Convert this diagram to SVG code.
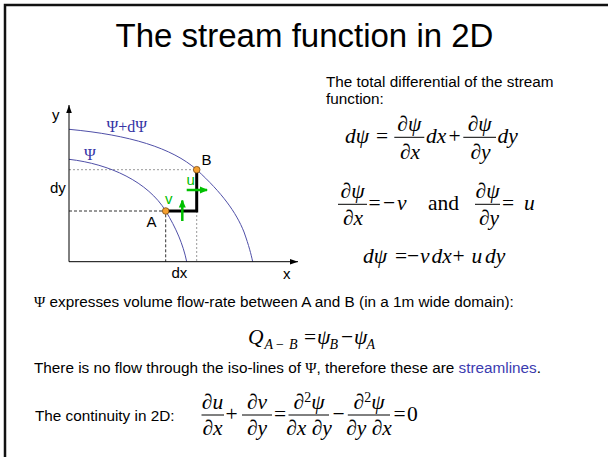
<svg xmlns="http://www.w3.org/2000/svg" width="608" height="457" viewBox="0 0 608 457">
<defs>
<marker id="axArrow" markerUnits="userSpaceOnUse" markerWidth="8" markerHeight="8" viewBox="0 0 8 8" refX="8" refY="4" orient="auto"><path d="M0,1.2 L8,4 L0,6.8 Z" fill="#000"/></marker>
<marker id="gArrow" markerUnits="userSpaceOnUse" markerWidth="8" markerHeight="8" viewBox="0 0 8 8" refX="7" refY="4" orient="auto"><path d="M0,0.5 L8,4 L0,7.5 Z" fill="#00c000"/></marker>
</defs>
<style>
.sans{font-family:"Liberation Sans",Arial,sans-serif;fill:#000}
.body{font-size:15.3px}
.lbl{font-size:15px}
.m{font-family:"Liberation Serif","Times New Roman",serif;font-size:21.5px;fill:#000}
.i{font-style:italic}
.sub{font-size:14px}
.fl{stroke:#000;stroke-width:1}
.curve{fill:none;stroke:#5050a8;stroke-width:1}
.blue{fill:#3535a5;font-family:"Liberation Serif","Times New Roman",serif;font-size:16px}
.green{fill:#00c000}
.dash{stroke:#333;stroke-width:1;stroke-dasharray:3,2;fill:none}
.dot{stroke:#999;stroke-width:1;stroke-dasharray:2,2;fill:none}
.pt{fill:#f5a030;stroke:#7a4a10;stroke-width:0.8}
.psi{font-family:"Liberation Serif","Times New Roman",serif}
</style>
<rect width="608" height="457" fill="#fff"/>
<path d="M5,457 V5 H608" fill="none" stroke="#111" stroke-width="2.5"/>
<text id="title" x="304.5" y="47" text-anchor="middle" class="sans" font-size="33">The stream function in 2D</text>

<g id="diagram">
<g id="guides">
<path class="dot" d="M69,169.7 H196.7"/>
<path class="dash" d="M69,211 H165.7 V261.7"/>
<path class="dot" d="M196.7,211 V261.7"/>
</g>
<g id="curves">
<path id="curve-psi" class="curve" d="M69,159.3 C110,164 148,182 165.7,211 C176,228 183,244 186.7,261.7"/>
<path id="curve-psidpsi" class="curve" d="M69,129.3 C130,135 172,148 196.7,169.7 C222,193 236,212 244,232 C249,246 251,254 252.7,261.7"/>
</g>
<g id="axes">
<line x1="69" y1="261.7" x2="69" y2="105" stroke="#000" stroke-width="1" marker-end="url(#axArrow)"/>
<line x1="69" y1="261.7" x2="298" y2="261.7" stroke="#000" stroke-width="1" marker-end="url(#axArrow)"/>
</g>
<path id="step" d="M165.7,211 H196.7 V169.7" fill="none" stroke="#000" stroke-width="3"/>
<g id="vel">
<line x1="186.7" y1="190" x2="207" y2="190" stroke="#00c000" stroke-width="2.5" marker-end="url(#gArrow)"/>
<line x1="182.3" y1="221" x2="182.3" y2="200.5" stroke="#00c000" stroke-width="2.5" marker-end="url(#gArrow)"/>
</g>
<g id="pointA"><circle class="pt" cx="165.7" cy="211" r="3.3"/><text class="sans lbl" x="146.5" y="226.5">A</text></g>
<g id="pointB"><circle class="pt" cx="196.7" cy="169.7" r="3.3"/><text class="sans lbl" x="201.5" y="164.5">B</text></g>
<g id="labels">
<text class="sans lbl" x="52" y="119.5">y</text>
<text class="sans lbl" x="283" y="279">x</text>
<text class="sans lbl" x="171.5" y="278">dx</text>
<text class="sans lbl" x="50" y="192.5">dy</text>
<text class="sans lbl green" x="186.5" y="185">u</text>
<text class="sans lbl green" x="165" y="203.5">v</text>
<text class="blue" x="106.5" y="131.5">Ψ+dΨ</text>
<text class="blue" x="84" y="160">Ψ</text>
</g>
</g>

<g id="intro" class="sans body">
<text x="326" y="87">The total differential of the stream</text>
<text x="326" y="104">function:</text>
</g>

<g id="eq1" class="m">
<text x="345" y="142.5" class="i">dψ</text>
<text x="376" y="142.5">=</text>
<line class="fl" x1="394.3" y1="137.3" x2="424.3" y2="137.3"/>
<text x="409.3" y="131" text-anchor="middle">∂<tspan class="i">ψ</tspan></text>
<text x="410" y="158.5" text-anchor="middle">∂<tspan class="i">x</tspan></text>
<text x="426" y="142.5" class="i">dx</text>
<text x="448.5" y="142.5">+</text>
<line class="fl" x1="463.3" y1="137.3" x2="496" y2="137.3"/>
<text x="479.7" y="131" text-anchor="middle">∂<tspan class="i">ψ</tspan></text>
<text x="480.5" y="158.5" text-anchor="middle">∂<tspan class="i">y</tspan></text>
<text x="497.5" y="142.5" class="i">dy</text>
</g>

<g id="eq2" class="m">
<line class="fl" x1="338" y1="204.3" x2="367" y2="204.3"/>
<text x="352.5" y="198" text-anchor="middle">∂<tspan class="i">ψ</tspan></text>
<text x="353" y="225" text-anchor="middle">∂<tspan class="i">x</tspan></text>
<text x="368.5" y="210">=</text>
<text x="383" y="210">−</text>
<text x="397" y="210" class="i">v</text>
<text x="428" y="210">and</text>
<line class="fl" x1="475" y1="204.3" x2="500" y2="204.3"/>
<text x="487.5" y="198" text-anchor="middle">∂<tspan class="i">ψ</tspan></text>
<text x="489" y="225" text-anchor="middle">∂<tspan class="i">y</tspan></text>
<text x="502" y="210">=</text>
<text x="524" y="210" class="i">u</text>
</g>

<g id="eq3" class="m">
<text x="363" y="263" class="i">dψ</text>
<text x="395" y="263">=</text>
<text x="407" y="263">−</text>
<text x="420" y="263" class="i">v</text>
<text x="431.5" y="263" class="i">dx</text>
<text x="452.5" y="263">+</text>
<text x="471.5" y="263" class="i">u</text>
<text x="485" y="263" class="i">dy</text>
</g>

<g id="para1" class="sans body">
<text x="34" y="307"><tspan class="psi">Ψ</tspan> expresses volume flow-rate between A and B (in a 1m wide domain):</text>
</g>

<g id="eqQ" class="m">
<text x="248" y="344" class="i">Q</text>
<text x="264.5" y="348.5" class="sub i">A</text>
<text x="276" y="348.5" class="sub">−</text>
<text x="289" y="348.5" class="sub i">B</text>
<text x="304" y="344">=</text>
<text x="317" y="344" class="i">ψ</text>
<text x="329.5" y="348.5" class="sub i">B</text>
<text x="341" y="344">−</text>
<text x="354" y="344" class="i">ψ</text>
<text x="366.5" y="348.5" class="sub i">A</text>
</g>

<g id="para2" class="sans body">
<text x="34" y="373">There is no flow through the iso-lines of <tspan class="psi">Ψ</tspan>, therefore these are <tspan fill="#3b3bb0">streamlines</tspan>.</text>
</g>

<g id="cont">
<text class="sans body" x="35" y="421">The continuity in 2D:</text>
<g class="m">
<line class="fl" x1="201.5" y1="415" x2="224" y2="415"/>
<text x="212.5" y="408.5" text-anchor="middle">∂<tspan class="i">u</tspan></text>
<text x="212.5" y="435" text-anchor="middle">∂<tspan class="i">x</tspan></text>
<text x="225.5" y="421">+</text>
<line class="fl" x1="242" y1="415" x2="272" y2="415"/>
<text x="257" y="408.5" text-anchor="middle">∂<tspan class="i">v</tspan></text>
<text x="257" y="435" text-anchor="middle">∂<tspan class="i">y</tspan></text>
<text x="274" y="421">=</text>
<line class="fl" x1="288.5" y1="415" x2="329" y2="415"/>
<text x="309" y="408.5" text-anchor="middle">∂<tspan font-size="14" dy="-7">2</tspan><tspan class="i" dy="7">ψ</tspan></text>
<text x="309" y="435" text-anchor="middle">∂<tspan class="i">x</tspan> ∂<tspan class="i">y</tspan></text>
<text x="332.5" y="421">−</text>
<line class="fl" x1="347.8" y1="415" x2="390" y2="415"/>
<text x="369" y="408.5" text-anchor="middle">∂<tspan font-size="14" dy="-7">2</tspan><tspan class="i" dy="7">ψ</tspan></text>
<text x="369" y="435" text-anchor="middle">∂<tspan class="i">y</tspan> ∂<tspan class="i">x</tspan></text>
<text x="393.5" y="421">=</text>
<text x="407" y="421">0</text>
</g>
</g>
</svg>
